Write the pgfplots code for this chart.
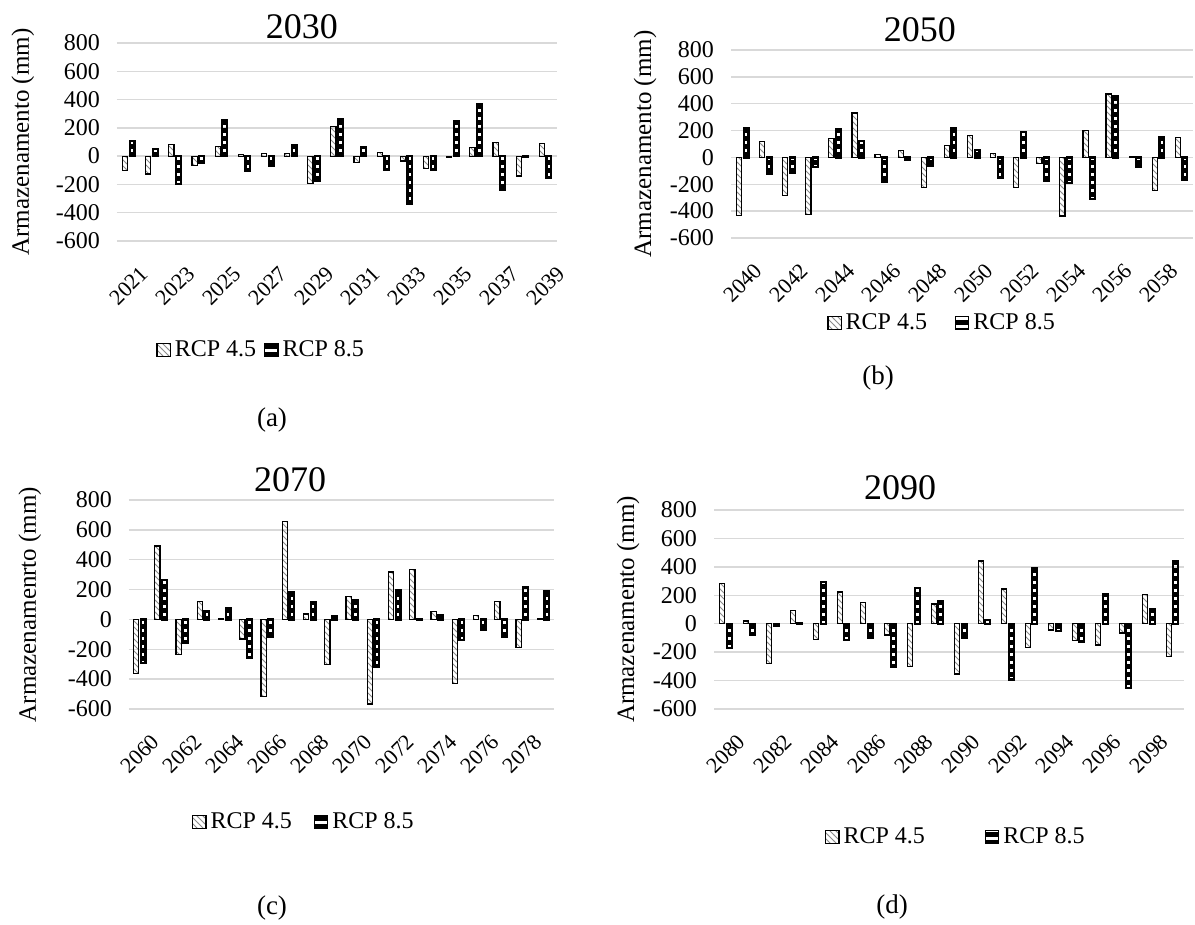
\documentclass[border=0pt]{standalone}
\usepackage{fontspec}
\setmainfont{Liberation Serif}
\usepackage{pgfplots}
\usepackage{pgfplotstable}
\pgfplotsset{compat=1.18}
\usetikzlibrary{patterns}
\pgfdeclarepatternformonly{hstripes}{\pgfqpoint{-0.5pt}{0pt}}{\pgfqpoint{4.5pt}{4pt}}{\pgfqpoint{4pt}{4pt}}{\pgfpathrectangle{\pgfqpoint{-0.5pt}{0pt}}{\pgfqpoint{5pt}{2.3pt}}\pgfusepath{fill}}

\pgfplotstableread{
i r45 r85
0 -100 105
1 -127 49
2 85 -198
3 -68 -49
4 66 254
5 10 -106
6 19 -71
7 21 80
8 -193 -172
9 212 259
10 -47 66
11 28 -94
12 -35 -336
13 -85 -94
14 -9 247
15 59 369
16 96 -240
17 -141 -4
18 89 -153
}\dataA
\pgfplotstableread{
i r45 r85
0 -432 219
1 117 -122
2 -286 -117
3 -427 -72
4 142 211
5 330 122
6 20 -179
7 50 -20
8 -224 -62
9 87 221
10 161 57
11 27 -154
12 -224 191
13 -45 -174
14 -437 -189
15 199 -310
16 472 457
17 3 -67
18 -246 154
19 149 -164
}\dataB
\pgfplotstableread{
i r45 r85
0 -361 -292
1 492 265
2 -236 -154
3 118 56
4 3 76
5 -131 -261
6 -519 -114
7 657 180
8 36 114
9 -301 24
10 151 129
11 -566 -318
12 318 194
13 336 2
14 53 27
15 -428 -140
16 27 -71
17 122 -120
18 -189 216
19 5 189
}\dataC
\pgfplotstableread{
i r45 r85
0 282 -169
1 19 -78
2 -278 -14
3 92 3
4 -110 291
5 223 -117
6 148 -99
7 -80 -307
8 -300 251
9 138 160
10 -354 -103
11 441 27
12 244 -392
13 -167 392
14 -44 -53
15 -117 -131
16 -150 211
17 -65 -452
18 207 104
19 -231 438
}\dataD

\pgfplotsset{
 every axis title shift=0pt,
 panel/.style={
  scale only axis, anchor=south west,
  ymin=-600, ymax=800, ytick={-600,-400,...,800},
  ymajorgrids, grid style={line width=0.75pt, color=black!15},
  axis line style={draw=none}, tick style={draw=none},
  /pgf/number format/assume math mode=true,
  yticklabel style={font=\fontsize{12}{14}\selectfont, xshift=-5pt},
  xticklabel style={font=\fontsize{11}{13}\selectfont, rotate=45, anchor=north east, inner sep=0pt, yshift=-12pt, xshift=-4.5pt},
  ylabel style={font=\fontsize{12.5}{15}\selectfont},
  title style={font=\fontsize{18}{20}\selectfont, anchor=center},
  legend style={draw=none, fill=none, font=\fontsize{12}{14}\selectfont, anchor=center, legend columns=2},
  legend image code/.code={\draw[line width=0.6pt,##1] (0pt,-3.3pt) rectangle (6.6pt,3.3pt);},
  xtick={0,2,...,18},
 },
 r45/.style={ybar, bar width=2.6pt, bar shift=-1.75pt, draw=black, line width=0.6pt, pattern=north west lines, pattern color=black!45},
 r85/.style={ybar, bar width=2.4pt, bar shift=1.75pt, draw=black, line width=1.1pt, pattern=hstripes, pattern color=black},
}

\begin{document}
\begin{tikzpicture}
\useasboundingbox (0,0) rectangle (597.5pt,462.5pt);

% (a)
\begin{axis}[panel, at={(58.5pt,342pt)}, width=220pt, height=99pt,
  xmin=-0.5, xmax=18.5,
  xticklabels={2021,2023,2025,2027,2029,2031,2033,2035,2037,2039},
  title={2030}, title style={at={(axis description cs:0.42,1.081)}},
  ylabel={Armazenamento (mm)}, ylabel style={at={(axis description cs:-0.214,0.5)}, anchor=center},
  legend style={at={(axis description cs:0.33,-0.55)}, /tikz/every even column/.append style={column sep=2pt}}]
\addplot[r45] table[x=i,y=r45]{\dataA};
\addlegendentry{RCP 4.5}
\addplot[r85] table[x=i,y=r85]{\dataA};
\addlegendentry{RCP 8.5}
\end{axis}

% (b)
\begin{axis}[panel, at={(365.5pt,343.5pt)}, width=231pt, height=94pt,
  xmin=-0.5, xmax=19.5,
  xticklabels={2040,2042,2044,2046,2048,2050,2052,2054,2056,2058},
  title={2050}, title style={at={(axis description cs:0.409,1.106)}},
  ylabel={Armazenamento (mm)}, ylabel style={at={(axis description cs:-0.186,0.5)}, anchor=center},
  legend style={at={(axis description cs:0.459,-0.452)}, /tikz/every even column/.append style={column sep=12pt}}]
\addplot[r45] table[x=i,y=r45]{\dataB};
\addlegendentry{RCP 4.5}
\addplot[r85] table[x=i,y=r85]{\dataB};
\addlegendentry{RCP 8.5}
\end{axis}

% (c)
\begin{axis}[panel, at={(64.5pt,108pt)}, width=212.5pt, height=104.5pt,
  xmin=-0.5, xmax=19.5,
  xticklabels={2060,2062,2064,2066,2068,2070,2072,2074,2076,2078},
  title={2070}, title style={at={(axis description cs:0.379,1.096)}},
  ylabel={Armazenamenrto (mm)}, ylabel style={at={(axis description cs:-0.233,0.5)}, anchor=center},
  legend style={at={(axis description cs:0.414,-0.541)}, /tikz/every even column/.append style={column sep=9pt}}]
\addplot[r45] table[x=i,y=r45]{\dataC};
\addlegendentry{RCP 4.5}
\addplot[r85] table[x=i,y=r85]{\dataC};
\addlegendentry{RCP 8.5}
\end{axis}

% (d)
\begin{axis}[panel, at={(357pt,108pt)}, width=235pt, height=99.5pt,
  xmin=-0.5, xmax=19.5,
  xticklabels={2080,2082,2084,2086,2088,2090,2092,2094,2096,2098},
  title={2090}, title style={at={(axis description cs:0.396,1.11)}},
  ylabel={Armazenamento (mm)}, ylabel style={at={(axis description cs:-0.183,0.5)}, anchor=center},
  legend style={at={(axis description cs:0.517,-0.643)}, /tikz/every even column/.append style={column sep=28pt}}]
\addplot[r45] table[x=i,y=r45]{\dataD};
\addlegendentry{RCP 4.5}
\addplot[r85] table[x=i,y=r85]{\dataD};
\addlegendentry{RCP 8.5}
\end{axis}

\node[font=\fontsize{13.5}{16}\selectfont] at (136pt,252.5pt) {(a)};
\node[font=\fontsize{13.5}{16}\selectfont] at (439pt,273.5pt) {(b)};
\node[font=\fontsize{13.5}{16}\selectfont] at (136pt,8.5pt) {(c)};
\node[font=\fontsize{13.5}{16}\selectfont] at (446pt,9pt) {(d)};
\end{tikzpicture}
\end{document}
